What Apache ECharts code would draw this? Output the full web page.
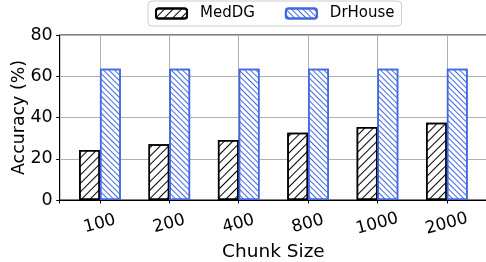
<!DOCTYPE html>
<html>
<head>
<meta charset="utf-8">
<script src="https://cdn.jsdelivr.net/npm/echarts@6/dist/echarts.min.js"></script>
<style>
  html, body { margin: 0; padding: 0; background: #fff; }
  #chart { width: 486px; height: 262px; }
</style>
</head>
<body>
<div id="chart"></div>
<script>
// data
const chunkSizes = ['100', '200', '400', '800', '1000', '2000'];
const medDG = [24.2, 27.0, 29.1, 32.6, 35.4, 37.5];
const drHouse = [63.6, 63.6, 63.6, 63.6, 63.6, 63.6];
const yTicks = [0, 20, 40, 60, 80];

const font = 'DejaVu Sans';
const blue = '#4169e1';

// bars sit on a value axis so the axis limits can match matplotlib's margins
function toPoints(values) {
  return values.map((v, i) => [i, v]);
}

const chart = echarts.init(document.getElementById('chart'));
chart.setOption({
  animation: false,
  textStyle: { fontFamily: font },
  legend: {
    left: 148,
    top: 1,
    padding: [5, 7, 5, 7],
    borderColor: '#cccccc',
    borderWidth: 1,
    borderRadius: 4,
    itemWidth: 31,
    itemHeight: 10,
    itemGap: 30,
    textStyle: { fontSize: 15, color: '#000', fontFamily: font, padding: [0, 0, 0, 8] },
    data: ['MedDG', 'DrHouse']
  },
  grid: {
    left: 59.7,
    top: 35,
    width: 427.4,
    height: 165,
    outerBoundsMode: 'none',
    containLabel: false,
    show: true,
    borderColor: '#000',
    borderWidth: 1
  },
  xAxis: {
    type: 'value',
    min: -0.58,
    max: 5.58,
    minInterval: 1,
    maxInterval: 1,
    name: 'Chunk Size',
    nameLocation: 'middle',
    nameGap: 43,
    nameMoveOverlap: false,
    nameTextStyle: { fontSize: 18.5, color: '#000', fontFamily: font },
    axisLine: { show: true, onZero: false, lineStyle: { color: '#000', width: 1 } },
    axisTick: { show: true, length: 3.5, lineStyle: { color: '#000' } },
    axisLabel: {
      rotate: 15,
      align: 'center',
      verticalAlign: 'top',
      margin: 15,
      padding: [0, 5, 0, 0],
      fontSize: 17,
      color: '#000',
      fontFamily: font,
      formatter: v => (Number.isInteger(v) && chunkSizes[v] !== undefined) ? chunkSizes[v] : ''
    },
    splitLine: { show: true, lineStyle: { color: '#b0b0b0', width: 1 } }
  },
  yAxis: {
    type: 'value',
    min: yTicks[0],
    max: yTicks[yTicks.length - 1],
    interval: 20,
    name: 'Accuracy (%)',
    nameLocation: 'middle',
    nameGap: 32,
    nameMoveOverlap: false,
    nameTextStyle: { fontSize: 17.4, color: '#000', fontFamily: font },
    axisLine: { show: true, onZero: false, lineStyle: { color: '#000', width: 1 } },
    axisTick: { show: true, length: 3.5, lineStyle: { color: '#000' } },
    axisLabel: { fontSize: 17.5, color: '#000', margin: 7, fontFamily: font },
    splitLine: { show: true, lineStyle: { color: '#b0b0b0', width: 1 } }
  },
  series: [
    {
      name: 'MedDG',
      type: 'bar',
      data: toPoints(medDG),
      barWidth: 20.8,
      barGap: '0%',
      itemStyle: {
        color: '#fff',
        borderColor: '#000',
        borderWidth: 1.5,
        decal: {
          symbol: 'rect',
          color: '#000',
          dashArrayX: [1, 0],
          dashArrayY: [1, 4.7],
          rotation: -Math.PI / 4
        }
      },
      z: 3
    },
    {
      name: 'DrHouse',
      type: 'bar',
      data: toPoints(drHouse),
      barWidth: 20.8,
      barGap: '0%',
      itemStyle: {
        color: '#fff',
        borderColor: blue,
        borderWidth: 1.5,
        decal: {
          symbol: 'rect',
          color: blue,
          dashArrayX: [1, 0],
          dashArrayY: [1, 2.4],
          rotation: Math.PI / 4
        }
      },
      z: 3
    }
  ]
});
</script>
</body>
</html>
